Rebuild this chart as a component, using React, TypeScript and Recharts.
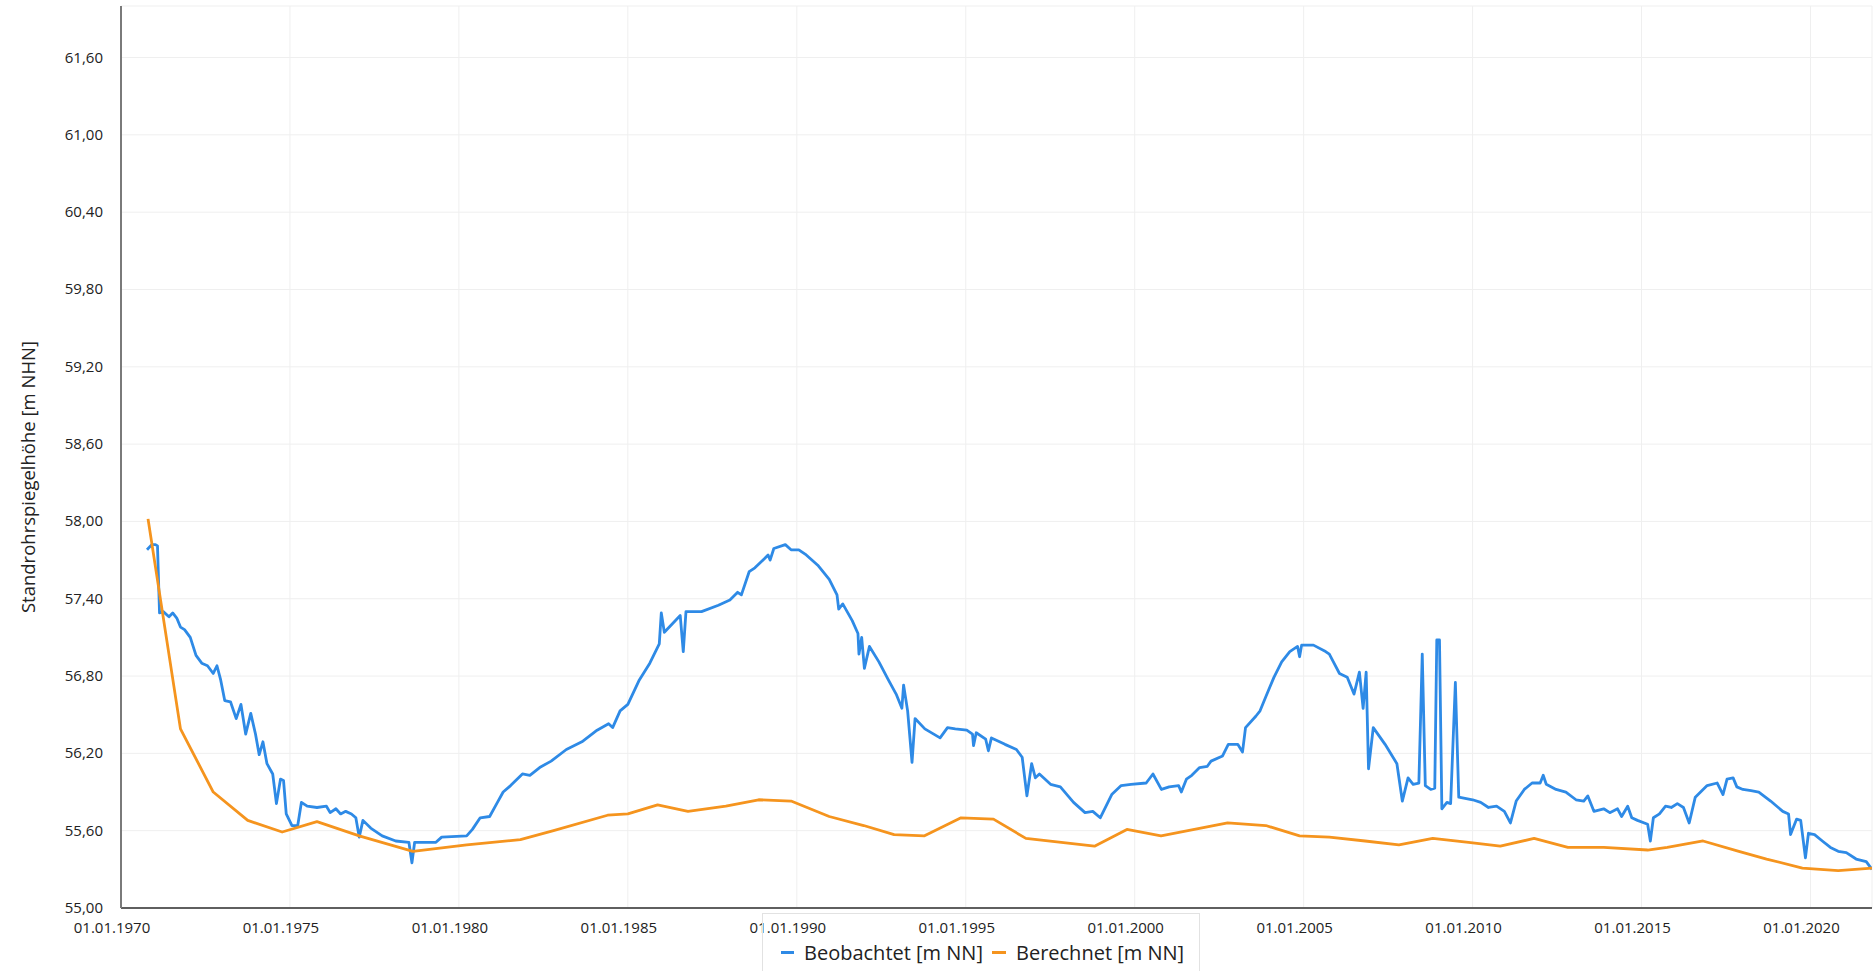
import React from 'react';
import { LineChart, Line, XAxis, YAxis, CartesianGrid, Legend } from 'recharts';

const obsYears = [
  1970.77, 1970.91, 1971.02, 1971.08, 1971.14, 1971.25, 1971.42, 1971.53, 1971.65, 1971.76, 1971.88,
  1972.05, 1972.22, 1972.39, 1972.56, 1972.73, 1972.84, 1972.95, 1973.07, 1973.24, 1973.41, 1973.55,
  1973.69, 1973.84, 1973.98, 1974.09, 1974.2, 1974.32, 1974.49, 1974.6, 1974.72, 1974.81, 1974.89,
  1975.06, 1975.23, 1975.34, 1975.51, 1975.8, 1976.08, 1976.19, 1976.36, 1976.5, 1976.65, 1976.82,
  1976.95, 1977.05, 1977.16, 1977.39, 1977.73, 1978.13, 1978.52, 1978.61, 1978.69, 1979.32, 1979.49,
  1980.23, 1980.4, 1980.63, 1980.91, 1981.14, 1981.31, 1981.53, 1981.88, 1982.1, 1982.39, 1982.73,
  1983.18, 1983.64, 1984.09, 1984.43, 1984.55, 1984.77, 1985.0, 1985.34, 1985.65,
  1985.93, 1985.99, 1986.08, 1986.55, 1986.64, 1986.72, 1987.18, 1987.68, 1988.02, 1988.25, 1988.36,
  1988.59, 1988.76, 1989.04, 1989.15, 1989.21, 1989.32, 1989.66, 1989.83, 1990.06, 1990.28, 1990.62,
  1990.96, 1991.19, 1991.24, 1991.36, 1991.64, 1991.81, 1991.84, 1991.92, 1992.0, 1992.15, 1992.43,
  1992.71, 1992.94, 1993.11, 1993.16, 1993.28, 1993.41, 1993.5, 1993.79, 1994.24, 1994.46, 1994.69,
  1995.03, 1995.2, 1995.23, 1995.31, 1995.59, 1995.67, 1995.76, 1996.16, 1996.5, 1996.67, 1996.81,
  1996.95, 1997.06, 1997.18, 1997.51, 1997.8, 1998.19, 1998.53, 1998.76, 1998.98, 1999.32, 1999.6,
  1999.89, 2000.34, 2000.54, 2000.79, 2001.02, 2001.3, 2001.38, 2001.53, 2001.69, 2001.92, 2002.15,
  2002.26, 2002.6, 2002.77, 2003.05, 2003.19, 2003.28,
  2003.59, 2003.71, 2003.88, 2004.12, 2004.35, 2004.59, 2004.82, 2004.88, 2004.94, 2005.29, 2005.65,
  2005.76, 2005.88, 2006.06, 2006.29, 2006.49, 2006.65, 2006.76, 2006.85, 2006.92, 2007.06, 2007.41,
  2007.76, 2007.92, 2008.09, 2008.24, 2008.41, 2008.51, 2008.6, 2008.76, 2008.88, 2008.94, 2009.02,
  2009.09, 2009.24, 2009.35, 2009.49, 2009.59, 2010.0, 2010.24, 2010.47, 2010.71, 2010.94, 2011.12,
  2011.29, 2011.53, 2011.76, 2012.0, 2012.09, 2012.18, 2012.47, 2012.76, 2013.06, 2013.29, 2013.41,
  2013.59, 2013.88, 2014.06, 2014.29, 2014.41, 2014.59, 2014.71, 2014.88, 2015.18, 2015.26, 2015.35,
  2015.53, 2015.71, 2015.88, 2016.06, 2016.24, 2016.41, 2016.59, 2016.94, 2017.24, 2017.41, 2017.53,
  2017.71, 2017.82, 2018.0, 2018.24, 2018.47, 2018.82, 2019.18, 2019.35, 2019.41, 2019.59, 2019.71,
  2019.85, 2019.94, 2020.12, 2020.35, 2020.59, 2020.82, 2021.06, 2021.35, 2021.65, 2021.82,
];

const obsValues = [
  57.78, 57.82, 57.82, 57.81, 57.29, 57.3, 57.26, 57.29, 57.25, 57.18, 57.16,
  57.1, 56.96, 56.9, 56.88, 56.82, 56.88, 56.77, 56.61, 56.6, 56.47, 56.58,
  56.35, 56.51, 56.35, 56.19, 56.29, 56.12, 56.04, 55.81, 56.0, 55.99, 55.73,
  55.64, 55.64, 55.82, 55.79, 55.78, 55.79, 55.74, 55.77, 55.73, 55.75, 55.73,
  55.7, 55.55, 55.68, 55.62, 55.56, 55.52, 55.51, 55.35, 55.51, 55.51, 55.55,
  55.56, 55.61, 55.7, 55.71, 55.82, 55.9, 55.95, 56.04, 56.03, 56.09, 56.14,
  56.23, 56.29, 56.38, 56.43, 56.4, 56.53, 56.58, 56.77, 56.9,
  57.05, 57.29, 57.14, 57.27, 56.99, 57.3, 57.3, 57.35, 57.39, 57.45, 57.43,
  57.61, 57.64, 57.71, 57.74, 57.7, 57.79, 57.82, 57.78, 57.78, 57.74, 57.66,
  57.55, 57.43, 57.32, 57.36, 57.23, 57.13, 56.97, 57.1, 56.86, 57.03, 56.91,
  56.77, 56.66, 56.55, 56.73, 56.53, 56.13, 56.47, 56.39, 56.32, 56.4, 56.39,
  56.38, 56.35, 56.26, 56.36, 56.31, 56.22, 56.32, 56.27, 56.23, 56.17, 55.87,
  56.12, 56.01, 56.04, 55.96, 55.94, 55.82, 55.74, 55.75, 55.7, 55.88, 55.95,
  55.96, 55.97, 56.04, 55.92, 55.94, 55.95, 55.9, 56.0, 56.03, 56.09, 56.1,
  56.14, 56.18, 56.27, 56.27, 56.21, 56.4,
  56.49, 56.53, 56.64, 56.79, 56.91, 56.99, 57.03, 56.95, 57.04, 57.04, 56.99,
  56.97, 56.91, 56.82, 56.79, 56.66, 56.83, 56.55, 56.83, 56.08, 56.4, 56.27,
  56.12, 55.83, 56.01, 55.96, 55.97, 56.97, 55.95, 55.92, 55.93, 57.08, 57.08,
  55.77, 55.82, 55.81, 56.75, 55.86, 55.84, 55.82, 55.78, 55.79, 55.75, 55.66,
  55.83, 55.92, 55.97, 55.97, 56.03, 55.96, 55.92, 55.9, 55.84, 55.83, 55.87,
  55.75, 55.77, 55.74, 55.77, 55.71, 55.79, 55.7, 55.68, 55.65, 55.52, 55.7,
  55.73, 55.79, 55.78, 55.81, 55.78, 55.66, 55.86, 55.95, 55.97, 55.88, 56.0,
  56.01, 55.94, 55.92, 55.91, 55.9, 55.83, 55.75, 55.73, 55.57, 55.69, 55.68,
  55.39, 55.58, 55.57, 55.52, 55.47, 55.44, 55.43, 55.38, 55.36, 55.3,
];

const calcYears = [
  1970.8, 1971.76, 1972.73, 1973.75, 1974.77, 1975.8, 1977.05, 1978.64, 1980.23, 1981.82, 1982.8,
  1984.4, 1985.0, 1985.88, 1986.78, 1987.9, 1988.87, 1989.83, 1990.96, 1991.98, 1992.88, 1993.78,
  1994.86, 1995.82, 1996.78, 1998.81, 1999.77, 2000.78, 2002.75, 2003.88, 2004.88, 2005.76, 2006.82,
  2007.82, 2008.82, 2009.88, 2010.82, 2011.82, 2012.82, 2013.88, 2015.18, 2015.76, 2016.82, 2017.88,
  2018.7, 2019.76, 2020.82, 2021.82,
];

const calcValues = [
  58.02, 56.39, 55.9, 55.68, 55.59, 55.67, 55.56, 55.44, 55.49, 55.53, 55.6,
  55.72, 55.73, 55.8, 55.75, 55.79, 55.84, 55.83, 55.71, 55.64, 55.57, 55.56,
  55.7, 55.69, 55.54, 55.48, 55.61, 55.56, 55.66, 55.64, 55.56, 55.55, 55.52,
  55.49, 55.54, 55.51, 55.48, 55.54, 55.47, 55.47, 55.45, 55.47, 55.52, 55.44,
  55.38, 55.31, 55.29, 55.31,
];

const xTickYears = [1970, 1975, 1980, 1985, 1990, 1995, 2000, 2005, 2010, 2015, 2020];
const yTicks = [55, 55.6, 56.2, 56.8, 57.4, 58, 58.6, 59.2, 59.8, 60.4, 61, 61.6];

const seriesNames = ['Beobachtet [m NN]', 'Berechnet [m NN]'];
const seriesColors = ['#2e8ae6', '#f5941e'];
const yTitle = 'Standrohrspiegelhöhe [m NHN]';

const obsData = obsYears.map((t, i) => ({ t, v: obsValues[i] }));
const calcData = calcYears.map((t, i) => ({ t, v: calcValues[i] }));

const FONT = '"Open Sans", "Noto Sans", sans-serif';

const XTick = (props: any) => {
  const { x, y, payload } = props;
  return (
    <text x={x - 9} y={y + 25} textAnchor="middle" fontSize={15} fill="#222" fontFamily={FONT}>
      {`01.01.${payload.value}`}
    </text>
  );
};

const YTick = (props: any) => {
  const { x, y, payload } = props;
  return (
    <text x={x - 18} y={y + 5} textAnchor="end" fontSize={15} fill="#222" fontFamily={FONT}>
      {Number(payload.value).toFixed(2).replace('.', ',')}
    </text>
  );
};

const YTitle = () => (
  <text
    x={27}
    y={477}
    transform="rotate(-90 27 477)"
    textAnchor="middle"
    dominantBaseline="central"
    fontSize={18.5}
    fill="#222"
    fontFamily={FONT}
  >
    {yTitle}
  </text>
);

const LegendContent = () => (
  <div
    style={{
      width: 438,
      height: 70,
      boxSizing: 'border-box',
      border: '1px solid #e2e2e2',
      borderBottom: 'none',
      background: 'transparent',
      paddingLeft: 18,
      paddingTop: 25,
      fontFamily: FONT,
      fontSize: 20,
      lineHeight: '27px',
      color: '#222',
    }}
  >
    <div style={{ display: 'flex', alignItems: 'center' }}>
      <span style={{ display: 'inline-block', width: 13, height: 3, background: seriesColors[0], marginRight: 10 }} />
      <span style={{ whiteSpace: 'nowrap' }}>{seriesNames[0]}</span>
      <span style={{ display: 'inline-block', width: 14, height: 3, background: seriesColors[1], marginLeft: 9, marginRight: 10 }} />
      <span style={{ whiteSpace: 'nowrap' }}>{seriesNames[1]}</span>
    </div>
  </div>
);

export default function App() {
  return (
    <div style={{ position: 'absolute', left: 0, top: 0, width: 1874, height: 971, background: '#fff' }}>
      <LineChart width={1874} height={971} margin={{ top: 6, right: 2, bottom: 0, left: 0 }}>
        <CartesianGrid stroke="#efefef" strokeWidth={1} />
        <XAxis
          type="number"
          dataKey="t"
          domain={[1970, 2021.82]}
          ticks={xTickYears}
          allowDataOverflow
          height={63}
          tickLine={false}
          tickSize={0}
          tickMargin={0}
          tick={<XTick />}
          axisLine={{ stroke: '#5f5f5f', strokeWidth: 2 }}
          interval={0}
        />
        <YAxis
          type="number"
          domain={[55, 62]}
          ticks={yTicks}
          allowDataOverflow
          width={121}
          tickLine={false}
          tickSize={0}
          tickMargin={0}
          tick={<YTick />}
          axisLine={{ stroke: '#7a7a7a', strokeWidth: 2 }}
          interval={0}
          label={<YTitle />}
        />
        <Legend
          layout="horizontal"
          align="center"
          verticalAlign="middle"
          wrapperStyle={{ left: 762, top: 913, width: 438, height: 70 }}
          content={<LegendContent />}
        />
        <Line
          data={obsData}
          dataKey="v"
          name={seriesNames[0]}
          type="linear"
          stroke={seriesColors[0]}
          strokeWidth={2.8}
          dot={false}
          activeDot={false}
          isAnimationActive={false}
          strokeLinejoin="round"
        />
        <Line
          data={calcData}
          dataKey="v"
          name={seriesNames[1]}
          type="linear"
          stroke={seriesColors[1]}
          strokeWidth={2.8}
          dot={false}
          activeDot={false}
          isAnimationActive={false}
          strokeLinejoin="round"
        />
      </LineChart>
    </div>
  );
}
